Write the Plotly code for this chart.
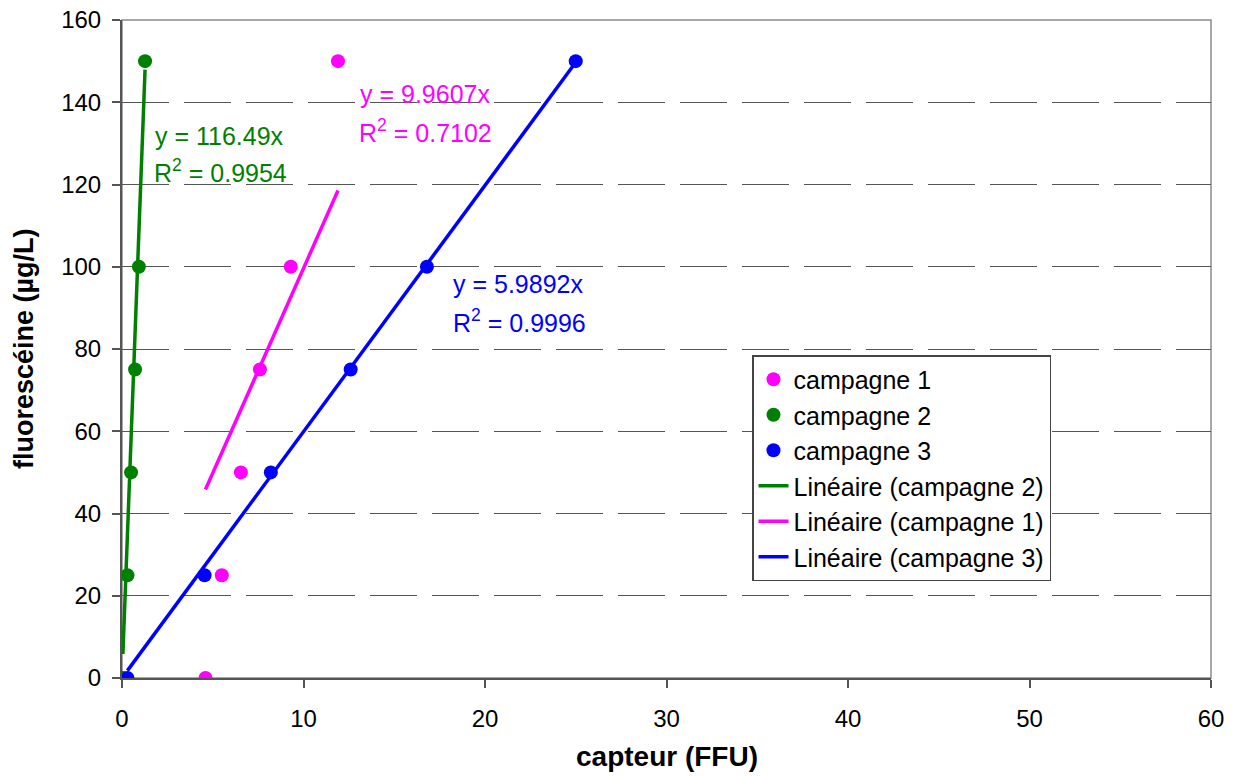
import numpy as np
import plotly.graph_objects as go

# Calibration data: fluorescein concentration vs sensor reading, three campaigns
concentration = [0, 25, 50, 75, 100, 150]          # µg/L
capteur_c1 = [4.6, 5.5, 6.55, 7.6, 9.3, 11.9]      # FFU, campagne 1
capteur_c2 = [0.05, 0.3, 0.5, 0.72, 0.93, 1.27]    # FFU, campagne 2
capteur_c3 = [0.3, 4.55, 8.2, 12.6, 16.8, 25.0]    # FFU, campagne 3

campagnes = ["campagne 1", "campagne 2", "campagne 3"]
pentes = [9.9607, 116.49, 5.9892]                  # linear fit through origin
r2 = [0.7102, 0.9954, 0.9996]
couleurs = ["#FF00FF", "#008000", "#0000FF"]
x_ticks = [0, 10, 20, 30, 40, 50, 60]
y_ticks = [0, 20, 40, 60, 80, 100, 120, 140, 160]

FONT = "Arial, Liberation Sans, sans-serif"
W, H = 1244, 776
L, R, T, B = 122, 33, 20, 98
PW, PH = W - L - R, H - T - B


def px(xp):
    return (xp - L) / PW


def py(yp):
    return (H - B - yp) / PH


series_x = [capteur_c1, capteur_c2, capteur_c3]

fig = go.Figure()

# measured points
for name, xs, col in zip(campagnes, series_x, couleurs):
    fig.add_trace(go.Scatter(
        x=xs, y=concentration, mode="markers", name=name,
        marker=dict(color=col, size=14),
        legendgroup=name,
    ))

# trendlines, legend order: campagne 2, 1, 3
for i in [1, 0, 2]:
    xs = np.array(series_x[i])
    xl = np.array([xs.min(), xs.max()])
    fig.add_trace(go.Scatter(
        x=xl, y=pentes[i] * xl, mode="lines",
        name=f"Linéaire ({campagnes[i]})",
        line=dict(color=couleurs[i], width=3.5),
        legendgroup="lin" + campagnes[i],
    ))

# equation labels (left edge, vertical centre of each line, in pixels)
label_pos = [((358, 94), (357, 131)),
             ((153, 136), (152, 171)),
             ((451, 284), (451, 321))]
annotations = []
for i, ((xe, ye), (xr, yr)) in enumerate(label_pos):
    annotations.append(dict(
        x=px(xe), y=py(ye), xref="paper", yref="paper",
        xanchor="left", yanchor="middle", showarrow=False,
        text=f"y = {pentes[i]:g}x",
        font=dict(family=FONT, size=25, color=couleurs[i]),
    ))
    annotations.append(dict(
        x=px(xr), y=py(yr), xref="paper", yref="paper",
        xanchor="left", yanchor="middle", showarrow=False,
        text=f"R<sup>2</sup> = {r2[i]:.4f}",
        font=dict(family=FONT, size=25, color=couleurs[i]),
    ))

# axis titles
annotations.append(dict(
    x=px(667), y=py(756), xref="paper", yref="paper",
    xanchor="center", yanchor="middle", showarrow=False,
    text="<b>capteur (FFU)</b>",
    font=dict(family=FONT, size=28, color="black"),
))
annotations.append(dict(
    x=px(24), y=0.5, xref="paper", yref="paper",
    xanchor="center", yanchor="middle", showarrow=False, textangle=-90,
    text="<b>fluorescéine (µg/L)</b>",
    font=dict(family=FONT, size=27, color="black"),
))

fig.update_layout(
    width=W, height=H,
    margin=dict(l=L, r=R, t=T, b=B, pad=0, autoexpand=False),
    paper_bgcolor="white", plot_bgcolor="white",
    font=dict(family=FONT, color="black"),
    showlegend=True,
    legend=dict(
        x=px(752), y=py(355), xanchor="left", yanchor="top",
        bordercolor="#444", borderwidth=1.5, bgcolor="white",
        font=dict(family=FONT, size=25, color="black"),
        tracegroupgap=0, itemwidth=30,
    ),
    annotations=annotations,
    shapes=[dict(type="rect", xref="paper", yref="paper", x0=0, y0=0, x1=1, y1=1,
                 line=dict(color="#8c8c8c", width=1.5), layer="below")],
)

fig.update_xaxes(
    range=[0, 60], tickvals=x_ticks, showgrid=False, zeroline=False,
    automargin=False,
    showline=True, linecolor="#555", linewidth=2,
    ticks="outside", ticklen=8, tickwidth=1.5, tickcolor="#555",
    tickfont=dict(family=FONT, size=24, color="black"),
    ticklabelstandoff=10,
)
fig.update_yaxes(
    range=[0, 160], tickvals=y_ticks, zeroline=False,
    automargin=False,
    showgrid=True, gridcolor="#555", gridwidth=1.2, griddash="47px,15px",
    showline=True, linecolor="#555", linewidth=2,
    ticks="outside", ticklen=8, tickwidth=1.5, tickcolor="#555",
    tickfont=dict(family=FONT, size=24, color="black"),
    ticklabelstandoff=6,
)

fig.write_html("out.html")
